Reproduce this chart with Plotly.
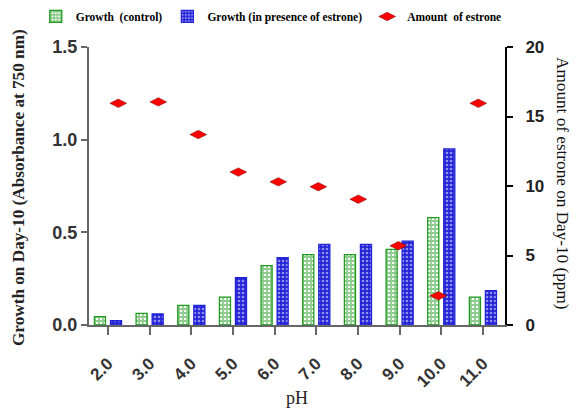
import plotly.graph_objects as go

ph = [2, 3, 4, 5, 6, 7, 8, 9, 10, 11]
ph_labels = ["2.0", "3.0", "4.0", "5.0", "6.0", "7.0", "8.0", "9.0", "10.0", "11.0"]
growth_control = [0.045, 0.063, 0.106, 0.150, 0.320, 0.380, 0.380, 0.408, 0.579, 0.150]
growth_estrone = [0.023, 0.060, 0.106, 0.255, 0.363, 0.435, 0.435, 0.453, 0.950, 0.185]
estrone_amount = [15.95, 16.05, 13.7, 11.0, 10.3, 9.95, 9.05, 5.7, 2.1, 15.95]

GREEN = "#1f9a1f"
BLUE = "#2323d8"
RED = "#ff0000"

SERIF = "Times New Roman, Liberation Serif, serif"
SANS = "Arial, Liberation Sans, sans-serif"

fig = go.Figure()
fig.add_trace(go.Bar(
    x=ph, y=growth_control, name="<b>Growth  (control)</b>",
    marker=dict(color=GREEN, line=dict(color=GREEN, width=1.3),
                pattern=dict(shape="+", fgcolor=GREEN, bgcolor="white", size=4, solidity=0.7)),
    xaxis="x", yaxis="y",
))
fig.add_trace(go.Bar(
    x=ph, y=growth_estrone, name="<b>Growth (in presence of estrone)</b>",
    marker=dict(color=BLUE, line=dict(color=BLUE, width=1.3),
                pattern=dict(shape=".", fgcolor="white", bgcolor=BLUE, size=4, solidity=0.35)),
    xaxis="x", yaxis="y",
))
fig.add_trace(go.Scatter(
    x=ph, y=estrone_amount, name="<b>Amount  of estrone</b>", mode="markers",
    marker=dict(symbol="diamond-wide", size=12, color=RED, line=dict(color="#700", width=0.5)),
    xaxis="x2", yaxis="y2",
))

# page has an 8px body margin, so the figure is 575x400 placed at (8, 8)
fig.update_layout(
    width=575, height=400,
    margin=dict(l=81, r=78, t=39, b=83, autoexpand=False),
    paper_bgcolor="white", plot_bgcolor="white",
    barmode="group", bargap=0.23, bargroupgap=0.31,
    showlegend=True,
    legend=dict(orientation="h", x=-0.128, y=1.162, xanchor="left", yanchor="top",
                font=dict(family=SERIF, size=11.5, color="black"),
                bgcolor="rgba(0,0,0,0)", itemwidth=30),
    xaxis=dict(
        range=[1.544, 11.53], tickmode="array", tickvals=ph, ticktext=["<b>%s</b>" % t for t in ph_labels],
        tickangle=-45, tickfont=dict(family=SANS, size=17, color="#333"), ticklabelstandoff=12,
        ticks="outside", ticklen=8, tickwidth=2, tickcolor="#666",
        showline=True, linecolor="#666", linewidth=2, showgrid=False, zeroline=False,
        title=dict(text="pH", font=dict(family=SERIF, size=18, color="#222"), standoff=6),
    ),
    xaxis2=dict(range=[1.2675, 11.6675], overlaying="x", anchor="y2", visible=False),
    yaxis=dict(
        range=[0, 1.5], tickvals=[0, 0.5, 1.0, 1.5], ticktext=["<b>0.0</b>", "<b>0.5</b>", "<b>1.0</b>", "<b>1.5</b>"],
        tickfont=dict(family=SANS, size=18, color="#333"),
        ticks="outside", ticklen=6, tickwidth=2, tickcolor="#666",
        showline=True, linecolor="#666", linewidth=2, showgrid=False, zeroline=False,
    ),
    yaxis2=dict(
        range=[0, 20], tickvals=[0, 5, 10, 15, 20], ticktext=["<b>0</b>", "<b>5</b>", "<b>10</b>", "<b>15</b>", "<b>20</b>"],
        overlaying="y", side="right",
        tickfont=dict(family=SANS, size=17, color="#222"), ticklabelstandoff=9,
        ticks="outside", ticklen=6, tickwidth=2, tickcolor="black",
        showline=True, linecolor="black", linewidth=2, showgrid=False, zeroline=False,
    ),
    annotations=[
        dict(text="<b>Growth on Day-10 (Absorbance at 750 nm)</b>", textangle=-90,
             xref="paper", yref="paper", x=(18 - 89) / 416, y=(325 - 188) / 278, xanchor="center", yanchor="middle",
             showarrow=False, font=dict(family=SERIF, size=17.2, color="#222")),
        dict(text="Amount of estrone on Day-10 (ppm)", textangle=90,
             xref="paper", yref="paper", x=(563 - 89) / 416, y=(325 - 183) / 278, xanchor="center", yanchor="middle",
             showarrow=False, font=dict(family=SERIF, size=17.2, color="#111")),
    ],
)

fig.write_html("out.html")
